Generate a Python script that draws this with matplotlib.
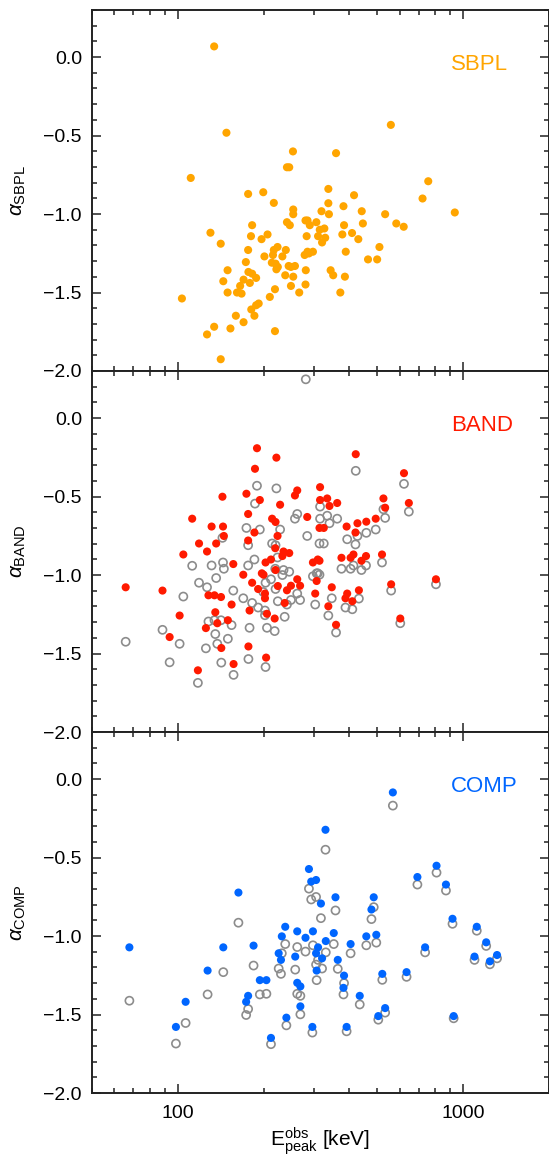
#!/usr/bin/env python
# coding: utf-8

"""
Low-energy index alpha versus observed Epeak for SBPL, BAND and COMP fits
"""

import numpy as np
import matplotlib
matplotlib.use("Agg")
import matplotlib.pyplot as plt
from matplotlib.ticker import LogLocator, NullFormatter, MultipleLocator

# --- SBPL: log10(Epeak/keV), alpha
sbpl_logep = [2.128, 2.171, 2.046, 2.015, 2.115, 2.151, 2.103, 2.128, 2.151, 2.160,
              2.175, 2.175, 2.185, 2.204, 2.208, 2.219, 2.224, 2.231, 2.231, 2.239,
              2.247, 2.247, 2.248, 2.253, 2.257, 2.261, 2.261, 2.258, 2.269, 2.275,
              2.275, 2.284, 2.294, 2.300, 2.304, 2.315, 2.323, 2.330, 2.337, 2.337,
              2.334, 2.341, 2.341, 2.343, 2.350, 2.346, 2.351, 2.367, 2.377, 2.379,
              2.383, 2.383, 2.391, 2.393, 2.389, 2.397, 2.397, 2.404, 2.405, 2.405,
              2.405, 2.411, 2.426, 2.445, 2.448, 2.448, 2.449, 2.452, 2.455, 2.455,
              2.463, 2.460, 2.474, 2.486, 2.492, 2.498, 2.504, 2.506, 2.514, 2.517,
              2.528, 2.528, 2.530, 2.536, 2.545, 2.555, 2.570, 2.577, 2.581, 2.583,
              2.586, 2.589, 2.611, 2.618, 2.633, 2.645, 2.649, 2.667, 2.699, 2.707,
              2.727, 2.747, 2.766, 2.792, 2.858, 2.878, 2.971]
sbpl_alpha = [0.068, -0.482, -0.770, -1.538, -1.119, -1.189, -1.767, -1.718, -1.925, -1.428,
              -1.358, -1.500, -1.729, -1.648, -1.500, -1.458, -1.507, -1.418, -1.689, -1.306,
              -0.872, -1.229, -1.369, -1.439, -1.141, -1.071, -1.380, -1.608, -1.648, -1.407,
              -1.581, -1.570, -1.160, -0.861, -1.270, -1.130, -1.528, -1.310, -0.929, -1.229,
              -1.261, -1.479, -1.746, -1.316, -1.210, -1.352, -1.337, -1.270, -1.390, -1.229,
              -1.052, -0.702, -0.702, -1.071, -1.331, -1.458, -1.337, -0.601, -0.971, -1.001,
              -1.399, -1.331, -1.500, -1.261, -1.041, -1.449, -1.358, -1.141, -1.041, -1.240,
              -1.071, -1.251, -1.240, -1.052, -1.141, -1.100, -0.982, -1.181, -1.092, -1.151,
              -0.840, -0.931, -1.001, -1.358, -1.390, -0.612, -1.500, -1.130, -0.950, -1.071,
              -1.399, -1.240, -1.121, -0.880, -1.160, -0.982, -1.060, -1.289, -1.289, -1.210,
              -1.001, -0.432, -1.060, -1.081, -0.901, -0.791, -0.990]

# --- BAND fits (filled) and the corresponding alternative fit (open grey)
band_logep = [1.818, 1.947, 1.972, 2.007, 2.020, 2.051, 2.071, 2.075, 2.099, 2.103,
              2.108, 2.119, 2.129, 2.132, 2.135, 2.139, 2.152, 2.153, 2.157, 2.159,
              2.162, 2.176, 2.189, 2.195, 2.196, 2.230, 2.241, 2.247, 2.247, 2.248,
              2.252, 2.261, 2.269, 2.271, 2.278, 2.282, 2.288, 2.295, 2.301, 2.306,
              2.306, 2.308, 2.310, 2.313, 2.327, 2.331, 2.340, 2.343, 2.342, 2.343,
              2.346, 2.350, 2.351, 2.359, 2.367, 2.371, 2.375, 2.383, 2.391, 2.397,
              2.411, 2.419, 2.419, 2.429, 2.454, 2.474, 2.482, 2.487, 2.491, 2.497,
              2.497, 2.499, 2.499, 2.512, 2.524, 2.528, 2.532, 2.540, 2.555, 2.559,
              2.574, 2.588, 2.594, 2.592, 2.606, 2.612, 2.616, 2.623, 2.624, 2.630,
              2.635, 2.644, 2.660, 2.661, 2.694, 2.716, 2.721, 2.727, 2.748, 2.780,
              2.793, 2.810, 2.905]
band_alpha = [-1.078, -1.099, -1.395, -1.258, -0.869, -0.641, -1.607, -0.799, -1.338, -0.850,
              -1.129, -0.691, -1.129, -1.237, -0.799, -1.307, -1.140, -1.465, -0.501, -0.691,
              -0.751, -1.288, -1.188, -0.930, -1.567, -0.998, -0.482, -0.611, -0.780, -1.455,
              -1.226, -1.049, -0.729, -0.323, -0.192, -1.089, -0.522, -0.989, -0.998, -1.118,
              -1.148, -0.920, -1.526, -1.247, -0.901, -0.641, -1.277, -0.662, -0.829, -0.968,
              -0.252, -0.751, -1.070, -0.552, -0.879, -0.850, -1.178, -1.097, -0.860, -1.068,
              -0.493, -0.461, -1.027, -1.068, -0.630, -0.920, -1.118, -1.038, -0.901, -0.909,
              -0.700, -0.440, -0.522, -0.700, -0.512, -1.199, -0.560, -1.078, -1.317, -0.541,
              -0.890, -1.148, -1.118, -0.691, -0.890, -1.167, -0.869, -0.729, -0.230, -0.670,
              -1.097, -0.909, -0.879, -0.660, -0.641, -0.869, -0.512, -0.571, -1.059, -1.277,
              -0.351, -0.541, -1.027]

band_alt_logep = [1.818, 1.947, 1.972, 2.007, 2.020, 2.051, 2.071, 2.075, 2.099, 2.103,
                  2.108, 2.119, 2.129, 2.132, 2.135, 2.139, 2.152, 2.153, 2.157, 2.159,
                  2.162, 2.176, 2.189, 2.195, 2.196, 2.230, 2.241, 2.247, 2.247, 2.248,
                  2.252, 2.261, 2.269, 2.271, 2.278, 2.282, 2.288, 2.300, 2.306, 2.306,
                  2.308, 2.308, 2.313, 2.327, 2.331, 2.340, 2.343, 2.342, 2.343, 2.346,
                  2.350, 2.351, 2.359, 2.367, 2.371, 2.375, 2.383, 2.391, 2.397, 2.411,
                  2.419, 2.419, 2.429, 2.454, 2.449, 2.474, 2.482, 2.487, 2.491, 2.497,
                  2.497, 2.499, 2.499, 2.512, 2.524, 2.528, 2.532, 2.540, 2.555, 2.559,
                  2.574, 2.588, 2.594, 2.606, 2.612, 2.616, 2.623, 2.624, 2.630, 2.635,
                  2.644, 2.660, 2.661, 2.694, 2.716, 2.721, 2.727, 2.748, 2.780, 2.793,
                  2.810, 2.905]
band_alt_alpha = [-1.425, -1.349, -1.556, -1.438, -1.137, -0.941, -1.687, -1.049, -1.467, -1.078,
                  -1.296, -0.939, -1.288, -1.376, -1.019, -1.438, -1.288, -1.558, -0.763, -0.920,
                  -0.960, -1.406, -1.319, -1.099, -1.636, -1.148, -0.700, -0.939, -0.810, -1.535,
                  -1.336, -1.178, -0.901, -0.545, -0.431, -1.207, -0.710, -1.108, -1.226, -1.256,
                  -1.049, -1.586, -1.336, -1.027, -0.799, -1.357, -0.810, -0.960, -1.089, -0.448,
                  -0.888, -1.167, -0.710, -1.000, -0.968, -1.266, -1.188, -0.979, -1.159, -0.641,
                  -0.611, -1.118, -1.159, -0.751, 0.247, -1.008, -1.188, -0.989, -0.989, -0.998,
                  -0.799, -0.564, -0.641, -0.799, -0.622, -1.258, -0.670, -1.148, -1.366, -0.641,
                  -0.960, -1.207, -0.772, -0.960, -1.218, -0.939, -0.805, -0.336, -0.751, -1.150,
                  -0.968, -0.939, -0.731, -0.710, -0.920, -0.581, -0.636, -1.099, -1.307, -0.419,
                  -0.596, -1.059]

# --- COMP fits (filled) and the corresponding alternative fit (open grey)
comp_logep = [1.831, 1.994, 2.028, 2.105, 2.160, 2.213, 2.266, 2.240, 2.247, 2.288,
              2.311, 2.327, 2.354, 2.362, 2.365, 2.377, 2.381, 2.412, 2.419, 2.419,
              2.430, 2.430, 2.448, 2.460, 2.468, 2.472, 2.474, 2.485, 2.485, 2.487,
              2.492, 2.502, 2.506, 2.518, 2.519, 2.547, 2.553, 2.561, 2.583, 2.581,
              2.592, 2.606, 2.638, 2.661, 2.679, 2.687, 2.696, 2.703, 2.717, 2.727,
              2.754, 2.802, 2.840, 2.867, 2.907, 2.940, 2.963, 2.967, 3.040, 3.048,
              3.081, 3.094, 3.119]
comp_alpha = [-1.072, -1.579, -1.419, -1.220, -1.072, -0.723, -1.061, -1.419, -1.381, -1.281,
              -1.281, -1.649, -1.110, -1.152, -1.002, -0.941, -1.520, -1.131, -0.970, -1.298,
              -1.321, -1.448, -1.011, -0.573, -0.653, -1.579, -0.970, -0.643, -1.110, -1.220,
              -1.072, -0.793, -1.142, -0.323, -1.032, -0.981, -0.753, -1.152, -1.252, -1.330,
              -1.579, -1.051, -1.381, -1.002, -0.831, -0.753, -0.992, -1.510, -1.241, -1.459,
              -0.085, -1.230, -0.624, -1.072, -0.552, -0.672, -0.890, -1.510, -1.131, -0.941,
              -1.040, -1.161, -1.121]
comp_alt_alpha = [-1.412, -1.685, -1.554, -1.372, -1.230, -0.915, -1.188, -1.503, -1.465, -1.372,
                  -1.368, -1.689, -1.207, -1.241, -1.110, -1.051, -1.569, -1.214, -1.070, -1.368,
                  -1.381, -1.499, -1.099, -0.698, -0.767, -1.615, -1.059, -0.751, -1.182, -1.281,
                  -1.152, -0.886, -1.207, -0.450, -1.104, -1.051, -0.837, -1.209, -1.300, -1.372,
                  -1.607, -1.110, -1.436, -1.059, -0.892, -0.816, -1.042, -1.533, -1.279, -1.488,
                  -0.169, -1.260, -0.672, -1.104, -0.596, -0.710, -0.922, -1.524, -1.152, -0.966,
                  -1.063, -1.180, -1.142]

panel_names = ["SBPL", "BAND", "COMP"]
panel_colors = ["#ffa500", "#ff1a00", "#0066ff"]
grey = "#8c8c8c"


def style_axis(ax):
    ax.set_xscale("log")
    ax.set_xlim(50, 2000)
    ax.set_ylim(-2.0, 0.3)
    ax.yaxis.set_major_locator(MultipleLocator(0.5))
    ax.yaxis.set_minor_locator(MultipleLocator(0.1))
    ax.xaxis.set_major_locator(LogLocator(base=10, subs=[1.0]))
    ax.xaxis.set_minor_locator(LogLocator(base=10, subs=np.arange(2, 10)))
    ax.xaxis.set_minor_formatter(NullFormatter())
    ax.yaxis.set_major_formatter(plt.FuncFormatter(
        lambda v, p: ("%.1f" % v).replace("-", "\u2212")))
    ax.tick_params(which="both", direction="in", top=True, right=True,
                   width=1.1, colors="#222222", labelcolor="black")
    ax.tick_params(which="major", length=6.5, labelsize=14, pad=7)
    ax.tick_params(which="minor", length=3.3)
    for s in ax.spines.values():
        s.set_linewidth(1.4)
        s.set_color("#222222")


def main():
    plt.rcParams['font.family'] = ["Liberation Sans", "DejaVu Sans"]
    plt.rcParams['mathtext.fontset'] = "custom"
    plt.rcParams['mathtext.rm'] = "Liberation Sans"
    plt.rcParams['mathtext.it'] = "Liberation Sans:italic"

    fig = plt.figure(figsize=(5.49, 11.58), dpi=100)
    left = 91.7 / 549.0
    width = 1.0 - left
    h = 361.0 / 1158.0
    bottom = 65.0 / 1158.0

    axes = []
    for i in range(3):
        ax = fig.add_axes([left, bottom + (2 - i) * h, width, h])
        style_axis(ax)
        axes.append(ax)

    ms = 34

    ax1 = axes[0]
    ax1.scatter(10 ** np.array(sbpl_logep), sbpl_alpha, s=ms,
                color=panel_colors[0], edgecolors="none", zorder=3)

    ax2 = axes[1]
    ax2.scatter(10 ** np.array(band_alt_logep), band_alt_alpha, s=ms,
                facecolors="none", edgecolors=grey, linewidths=1.2,
                zorder=2, clip_on=False)
    ax2.scatter(10 ** np.array(band_logep), band_alpha, s=ms,
                color=panel_colors[1], edgecolors="none", zorder=3)

    ax3 = axes[2]
    ax3.scatter(10 ** np.array(comp_logep), comp_alt_alpha, s=ms,
                facecolors="none", edgecolors=grey, linewidths=1.2, zorder=2)
    ax3.scatter(10 ** np.array(comp_logep), comp_alpha, s=ms,
                color=panel_colors[2], edgecolors="none", zorder=3)

    for ax, name, col in zip(axes, panel_names, panel_colors):
        ax.text(0.786, 0.848, name, transform=ax.transAxes, color=col,
                fontsize=16, ha="left", va="center")
        ax.set_ylabel(r"$\alpha_{\mathrm{%s}}$" % name, fontsize=15)
        ax.yaxis.set_label_coords(-0.14, 0.5)

    for ax in axes[:2]:
        ax.tick_params(axis="x", which="both", labelbottom=False)

    ax3.set_xticks([100, 1000])
    ax3.set_xticklabels(["100", "1000"])
    ax3.tick_params(axis="x", which="major", pad=9)
    ax3.set_xlabel(r"$\mathrm{E}^{\mathrm{obs}}_{\mathrm{peak}}$ [keV]",
                   fontsize=15, labelpad=2)
    ax3.set_xlim(50, 2000)

    fig.savefig("out.png", dpi=100)


if __name__ == "__main__":
    main()
